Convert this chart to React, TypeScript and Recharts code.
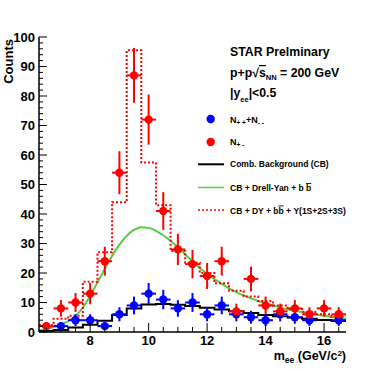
import {
  ComposedChart,
  Line,
  Scatter,
  ErrorBar,
  XAxis,
  YAxis,
} from 'recharts'

// bin centres (0.5 GeV bins)
const binCenters = [6.5, 7, 7.5, 8, 8.5, 9, 9.5, 10, 10.5, 11, 11.5, 12, 12.5, 13, 13.5, 14, 14.5, 15, 15.5, 16, 16.5]

// N+-  (unlike sign)
const redCounts = [2, 8, 10, 13, 24, 54, 87, 72, 41, 28, 23, 19, 24, 7, 18, 9, 7, 8, 6, 8, 6]
const redErrors = [1.4, 2.8, 3.2, 3.6, 4.9, 7.3, 9.3, 8.5, 6.4, 5.3, 4.8, 4.4, 4.9, 2.6, 4.2, 3, 2.6, 2.8, 2.4, 2.8, 2.4]

// N++ + N--  (like sign), 0 = no point drawn
const blueCounts = [0, 2, 4, 4, 2, 6, 9, 13, 11, 8, 10, 6, 9, 6, 5, 4, 6, 5, 4, 0, 4]
const blueErrors = [0, 1.4, 2, 2, 1.4, 2.4, 3, 3.6, 3.3, 2.8, 3.2, 2.4, 3, 2.4, 2.2, 2, 2.4, 2.2, 2, 0, 2]

// histograms
const combBackground = [0.3, 0.7, 1.5, 2.5, 3.8, 5.8, 8, 9.3, 9.5, 9.2, 8.8, 8.2, 7.6, 7, 6.4, 5.8, 5.3, 4.9, 4.5, 4.1, 3.7]
const fullFit = [2.3, 4.5, 5.5, 17, 27, 44, 95.5, 57.5, 43, 27.5, 23.5, 20, 16.5, 14, 12, 10.5, 9, 7.8, 6.8, 6, 5.2]

// CB + Drell-Yan + bb curve
const dyMass = [6.25, 6.5, 6.75, 7, 7.25, 7.5, 7.75, 8, 8.25, 8.5, 8.75, 9, 9.25, 9.5, 9.75, 10, 10.25, 10.5, 10.75, 11, 11.25, 11.5, 11.75, 12, 12.25, 12.5, 12.75, 13, 13.25, 13.5, 13.75, 14, 14.25, 14.5, 14.75, 15, 15.25, 15.5, 15.75, 16, 16.25, 16.5, 16.75]
const dyValues = [0.5, 1, 1.7, 2.6, 3.7, 5.4, 8.3, 12.3, 16.8, 21.4, 25.8, 29.6, 32.6, 34.6, 35.5, 35.3, 34.3, 32.8, 30.9, 28.7, 26.3, 23.9, 21.7, 19.7, 17.9, 16.3, 14.8, 13.5, 12.4, 11.4, 10.5, 9.7, 9, 8.3, 7.7, 7.2, 6.7, 6.3, 5.9, 5.5, 5.1, 4.7, 4.4]

const xTicks = [6.5, 7, 7.5, 8, 8.5, 9, 9.5, 10, 10.5, 11, 11.5, 12, 12.5, 13, 13.5, 14, 14.5, 15, 15.5, 16, 16.5]
const xLabels = [8, 10, 12, 14, 16]
const yTicks = Array.from({ length: 51 }, (_, i) => i * 2)

const X_MIN = 6.25
const X_MAX = 16.75
const HALF_BIN = 0.25

const FONT = '"Liberation Sans", Arial, Helvetica, sans-serif'

// step histogram as low-edge points + closing point
const toSteps = (vals: number[]) => [
  ...binCenters.map((c, i) => ({ x: c - HALF_BIN, y: vals[i] })),
  { x: X_MAX, y: vals[vals.length - 1] },
]

const redPoints = binCenters.map((c, i) => ({ x: c, y: redCounts[i], ex: HALF_BIN, ey: redErrors[i] }))
const bluePoints = binCenters
  .map((c, i) => ({ x: c, y: blueCounts[i], ex: HALF_BIN, ey: blueErrors[i] }))
  .filter((p) => p.y > 0)
const dyCurve = dyMass.map((m, i) => ({ x: m, y: dyValues[i] }))

function YTick({ x, y, payload }: any) {
  const v = payload.value
  const major = v % 10 === 0
  const ax = x + 4
  return (
    <g>
      <line x1={ax} x2={ax + (major ? 8 : 4)} y1={y} y2={y} stroke="#000" strokeWidth={1} />
      {major && (
        <text x={x} y={y + 4.5} textAnchor="end" fontFamily={FONT} fontWeight="bold" fontSize={13} fill="#000">
          {v}
        </text>
      )}
    </g>
  )
}

function XTick({ x, y, payload }: any) {
  const v = payload.value
  const major = xLabels.includes(v)
  return (
    <g>
      <line x1={x} x2={x} y1={y} y2={y - (major ? 9 : 5)} stroke="#000" strokeWidth={1} />
      {major && (
        <text x={x} y={y + 12.5} textAnchor="middle" fontFamily={FONT} fontWeight="bold" fontSize={13} fill="#000">
          {v}
        </text>
      )}
    </g>
  )
}

const dot = (color: string) => (p: any) => <circle cx={p.cx} cy={p.cy} r={4.2} fill={color} />

function Overlay() {
  const small = { fontFamily: FONT, fontWeight: 'bold' as const, fill: '#000' }
  return (
    <svg width={385} height={369} style={{ position: 'absolute', left: 0, top: 0, pointerEvents: 'none' }}>
      <text transform="translate(12.5,39) rotate(-90)" textAnchor="end" fontSize={13} {...small}>Counts</text>
      <text x={346} y={360} textAnchor="end" fontSize={12.5} {...small}>
        m<tspan fontSize={8.5} dy={3}>ee</tspan><tspan dy={-3}> (GeV/c</tspan><tspan fontSize={8} dy={-4}>2</tspan><tspan dy={4}>)</tspan>
      </text>

      <text x={230} y={56} fontSize={12.3} {...small}>STAR Prelminary</text>
      <text x={230} y={77} fontSize={12.3} {...small}>
        p+p√<tspan textDecoration="overline">s</tspan><tspan fontSize={7.5} dy={3}>NN</tspan><tspan dy={-3}> = 200 GeV</tspan>
      </text>
      <text x={230} y={97} fontSize={12.3} {...small}>
        |y<tspan fontSize={7.5} dy={5}>ee</tspan><tspan dy={-5}>|&lt;0.5</tspan>
      </text>

      <circle cx={210.7} cy={119} r={4.2} fill="#0000ff" />
      <text x={230} y={122.5} fontSize={9} {...small}>
        N<tspan fontSize={6.5} dy={2.5}>+ +</tspan><tspan dy={-2.5}>+N</tspan><tspan fontSize={6.5} dy={2.5}>- -</tspan>
      </text>
      <circle cx={210.7} cy={142} r={4.2} fill="#ff0000" />
      <text x={230} y={144.5} fontSize={9} {...small}>
        N<tspan fontSize={6.5} dy={2.5}>+ -</tspan>
      </text>

      <line x1={198} x2={224} y1={164.3} y2={164.3} stroke="#000" strokeWidth={2} />
      <text x={230} y={167} fontSize={8.5} {...small}>Comb. Background (CB)</text>

      <line x1={198} x2={224} y1={187.5} y2={187.5} stroke="#55cc44" strokeWidth={1.5} />
      <text x={230} y={191} fontSize={8.5} {...small}>
        CB + Drell-Yan + b <tspan textDecoration="overline">b</tspan>
      </text>

      <line x1={198} x2={224} y1={210} y2={210} stroke="#ff0000" strokeWidth={1.5} strokeDasharray="2 2" />
      <text x={230} y={213.5} fontSize={8.5} {...small}>
        CB + DY + b<tspan textDecoration="overline">b</tspan> + Υ(1S+2S+3S)
      </text>
    </svg>
  )
}

export default function App() {
  return (
    <div style={{ position: 'absolute', left: 0, top: 0, width: 385, height: 369, background: '#fff' }}>
      <ComposedChart width={385} height={369} margin={{ top: 37, right: 39, bottom: 0, left: 0 }}>
        <XAxis
          xAxisId="b"
          type="number"
          dataKey="x"
          domain={[X_MIN, X_MAX]}
          allowDataOverflow
          ticks={xTicks}
          interval={0}
          tick={<XTick />}
          tickLine={false}
          tickSize={0}
          tickMargin={0}
          height={37}
          axisLine={{ stroke: '#000', strokeWidth: 1.5 }}
        />
        <XAxis
          xAxisId="t"
          orientation="top"
          type="number"
          dataKey="x"
          domain={[X_MIN, X_MAX]}
          tick={false}
          tickLine={false}
          height={0}
          axisLine={{ stroke: '#999', strokeWidth: 2.5 }}
        />
        <YAxis
          yAxisId="l"
          type="number"
          dataKey="y"
          domain={[0, 100]}
          allowDataOverflow
          ticks={yTicks}
          interval={0}
          tick={<YTick />}
          tickLine={false}
          tickSize={0}
          tickMargin={4}
          width={39}
          axisLine={{ stroke: '#000', strokeWidth: 1.5 }}
        />
        <YAxis
          yAxisId="r"
          orientation="right"
          type="number"
          domain={[0, 100]}
          tick={false}
          tickLine={false}
          width={0}
          axisLine={{ stroke: '#999', strokeWidth: 1.5 }}
        />

        <Line
          xAxisId="b"
          yAxisId="l"
          data={dyCurve}
          dataKey="y"
          type="monotone"
          stroke="#55cc44"
          strokeWidth={2}
          dot={false}
          isAnimationActive={false}
        />
        <Line
          xAxisId="b"
          yAxisId="l"
          data={toSteps(combBackground)}
          dataKey="y"
          type="stepAfter"
          stroke="#000"
          strokeWidth={2}
          dot={false}
          isAnimationActive={false}
        />
        <Line
          xAxisId="b"
          yAxisId="l"
          data={toSteps(fullFit)}
          dataKey="y"
          type="stepAfter"
          stroke="#ff0000"
          strokeWidth={2}
          strokeDasharray="2 2"
          dot={false}
          isAnimationActive={false}
        />

        <Scatter
          xAxisId="b"
          yAxisId="l"
          data={bluePoints}
          fill="#0000ff"
          shape={dot('#0000ff')}
          isAnimationActive={false}
        >
          <ErrorBar dataKey="ey" direction="y" width={0} stroke="#0000ff" strokeWidth={2} isAnimationActive={false} />
          <ErrorBar dataKey="ex" direction="x" width={0} stroke="#0000ff" strokeWidth={2} isAnimationActive={false} />
        </Scatter>
        <Scatter
          xAxisId="b"
          yAxisId="l"
          data={redPoints}
          fill="#ff0000"
          shape={dot('#ff0000')}
          isAnimationActive={false}
        >
          <ErrorBar dataKey="ey" direction="y" width={0} stroke="#ff0000" strokeWidth={2} isAnimationActive={false} />
          <ErrorBar dataKey="ex" direction="x" width={0} stroke="#ff0000" strokeWidth={2} isAnimationActive={false} />
        </Scatter>
      </ComposedChart>
      <Overlay />
    </div>
  )
}
